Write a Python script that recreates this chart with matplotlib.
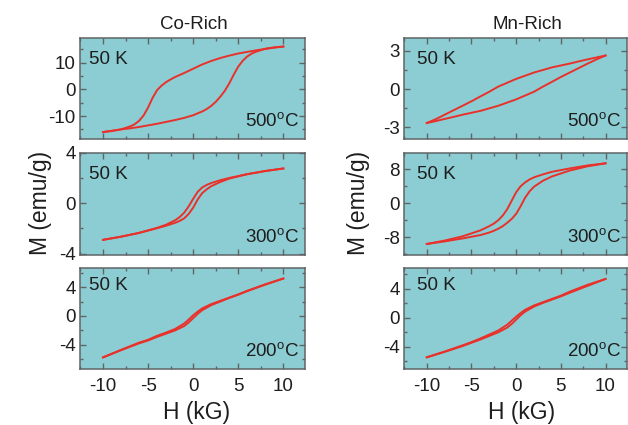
import numpy as np
import matplotlib.pyplot as plt
from matplotlib.ticker import MultipleLocator

plt.rcParams['font.family'] = ['Liberation Sans', 'DejaVu Sans']
plt.rcParams['axes.unicode_minus'] = False

# ===================== data =====================
# Co-Rich, 500 C anneal
co500_h_dn = [10, 9, 8, 7, 6, 5, 4, 3, 2, 1, 0, -1, -2, -2.5, -3, -3.5, -4, -4.5, -5, -5.5, -6, -6.5, -7, -8, -9, -10]
co500_m_dn = [16.0, 15.6, 15.1, 14.6, 14.0, 13.4, 12.6, 11.7, 10.6, 9.3, 7.7, 6.1, 4.6, 3.7, 2.7, 1.4, -0.3, -3.2, -6.8, -9.8, -11.8, -13.1, -13.9, -15.0, -15.6, -16.0]
co500_h_up = [-10, -9, -8, -7, -6, -5, -4, -3, -2, -1, 0, 1, 1.5, 2, 2.5, 3, 3.5, 4, 4.5, 5, 5.5, 6, 6.5, 7, 8, 9, 10]
co500_m_up = [-16.0, -15.5, -15.0, -14.6, -14.1, -13.5, -12.9, -12.2, -11.5, -10.7, -9.7, -8.3, -7.4, -6.2, -4.7, -2.8, -0.6, 2.2, 5.5, 8.5, 10.7, 12.3, 13.4, 14.1, 15.2, 15.7, 16.0]

# Co-Rich, 300 C
co300_h_dn = [10, 8, 6, 4, 3, 2, 1.5, 1, 0.5, 0, -0.5, -1, -1.5, -2, -3, -4, -6, -8, -10]
co300_m_dn = [2.75, 2.55, 2.3, 2.0, 1.82, 1.6, 1.45, 1.25, 0.9, 0.35, -0.25, -0.75, -1.1, -1.35, -1.7, -1.95, -2.35, -2.65, -2.9]
co300_h_up = [-10, -8, -6, -4, -3, -2, -1.5, -1, -0.5, 0, 0.5, 1, 1.5, 2, 3, 4, 6, 8, 10]
co300_m_up = [-2.9, -2.65, -2.35, -1.98, -1.78, -1.55, -1.4, -1.2, -0.85, -0.35, 0.3, 0.8, 1.1, 1.35, 1.68, 1.95, 2.3, 2.55, 2.75]

# Co-Rich, 200 C
co200_h_dn = [10, 8, 6, 5, 4, 3, 2, 1, 0.5, 0, -0.5, -1, -2, -3, -4, -5, -6, -8, -10]
co200_m_dn = [5.2, 4.4, 3.5, 3.0, 2.55, 2.1, 1.65, 1.05, 0.6, 0.1, -0.5, -1.05, -1.8, -2.3, -2.75, -3.3, -3.7, -4.7, -5.75]
co200_h_up = [-10, -8, -6, -5, -4, -3, -2, -1, -0.5, 0, 0.5, 1, 2, 3, 4, 5, 6, 8, 10]
co200_m_up = [-5.75, -4.75, -3.8, -3.4, -2.9, -2.45, -2.0, -1.4, -0.9, -0.3, 0.3, 0.8, 1.5, 2.0, 2.5, 2.95, 3.45, 4.35, 5.2]

# Mn-Rich, 500 C
mn500_h_dn = [10, 9, 8, 7, 6, 5, 4, 3, 2, 1, 0, -1, -2, -3, -4, -5, -6, -7, -8, -9, -10]
mn500_m_dn = [2.63, 2.48, 2.33, 2.17, 2.0, 1.85, 1.7, 1.5, 1.3, 1.05, 0.8, 0.5, 0.2, -0.2, -0.57, -0.95, -1.3, -1.65, -2.0, -2.35, -2.65]
mn500_h_up = [-10, -9, -8, -7, -6, -5, -4, -3, -2, -1, 0, 1, 2, 3, 4, 5, 6, 7, 8, 9, 10]
mn500_m_up = [-2.65, -2.5, -2.33, -2.17, -2.0, -1.85, -1.7, -1.5, -1.3, -1.05, -0.8, -0.5, -0.2, 0.2, 0.57, 0.95, 1.3, 1.65, 2.0, 2.33, 2.63]

# Mn-Rich, 300 C
mn300_h_dn = [10, 8, 6, 4, 3, 2, 1.5, 1, 0.5, 0, -0.5, -1, -1.5, -2, -2.5, -3, -4, -6, -8, -10]
mn300_m_dn = [9.4, 8.9, 8.2, 7.4, 6.8, 6.1, 5.6, 4.9, 4.0, 2.6, 0.6, -1.4, -2.9, -4.0, -4.8, -5.4, -6.4, -7.8, -8.8, -9.6]
mn300_h_up = [-10, -8, -6, -4, -3, -2.5, -2, -1.5, -1, -0.5, 0, 0.5, 1, 1.5, 2, 3, 4, 6, 8, 10]
mn300_m_up = [-9.6, -9.0, -8.3, -7.5, -6.9, -6.5, -6.0, -5.4, -4.6, -3.7, -2.5, -0.7, 1.3, 2.8, 3.9, 5.3, 6.3, 7.7, 8.7, 9.4]

# Mn-Rich, 200 C
mn200_h_dn = [10, 8, 6, 5, 4, 3, 2, 1, 0.5, 0, -0.5, -1, -2, -3, -4, -5, -6, -8, -10]
mn200_m_dn = [5.35, 4.55, 3.6, 3.05, 2.6, 2.15, 1.7, 1.1, 0.65, 0.15, -0.4, -0.95, -1.75, -2.3, -2.85, -3.35, -3.8, -4.65, -5.45]
mn200_h_up = [-10, -8, -6, -5, -4, -3, -2, -1, -0.5, 0, 0.5, 1, 2, 3, 4, 5, 6, 8, 10]
mn200_m_up = [-5.45, -4.7, -3.9, -3.45, -3.0, -2.5, -2.0, -1.35, -0.85, -0.25, 0.35, 0.85, 1.55, 2.05, 2.5, 2.95, 3.45, 4.4, 5.35]

temp_labels = ["500", "300", "200"]
col_titles = ["Co-Rich", "Mn-Rich"]
x_ticks = [-10, -5, 0, 5, 10]

# ===================== layout / style =====================
bg = '#8ccdd3'
red = '#e8312b'
spine_c = '#5f6466'
txt_c = '#1e1e1e'

W, H = 628, 425
col_left = [80, 404]
col_w = [225, 223]
row_top = [38, 152.7, 267.7]
row_h = [101, 102.3, 101.6]

panels = [
    [(co500_h_dn, co500_m_dn, co500_h_up, co500_m_up, (-18.6, 19.2), [-10, 0, 10], 5),
     (co300_h_dn, co300_m_dn, co300_h_up, co300_m_up, (-4.1, 3.95), [-4, 0, 4], 2),
     (co200_h_dn, co200_m_dn, co200_h_up, co200_m_up, (-7.4, 6.7), [-4, 0, 4], 2)],
    [(mn500_h_dn, mn500_m_dn, mn500_h_up, mn500_m_up, (-3.9, 4.0), [-3, 0, 3], 1.5),
     (mn300_h_dn, mn300_m_dn, mn300_h_up, mn300_m_up, (-12.2, 11.9), [-8, 0, 8], 4),
     (mn200_h_dn, mn200_m_dn, mn200_h_up, mn200_m_up, (-7.1, 6.9), [-4, 0, 4], 2)],
]

fig = plt.figure(figsize=(6.28, 4.25), dpi=100)

for c in range(2):
    for r in range(3):
        h_dn, m_dn, h_up, m_up, ylim, yt, yminor = panels[c][r]
        ax = fig.add_axes([col_left[c]/W, 1-(row_top[r]+row_h[r])/H, col_w[c]/W, row_h[r]/H])
        ax.set_facecolor(bg)
        ax.plot(h_dn, m_dn, color=red, lw=1.4)
        ax.plot(h_up, m_up, color=red, lw=1.4)
        ax.set_xlim(-12.55, 12.4)
        ax.set_ylim(*ylim)
        ax.set_xticks(x_ticks)
        ax.xaxis.set_minor_locator(MultipleLocator(2.5))
        ax.set_yticks(yt)
        ax.yaxis.set_minor_locator(MultipleLocator(yminor))
        ax.tick_params(which='both', direction='in', top=True, right=True, color=spine_c,
                       labelsize=13.5, labelcolor=txt_c, width=1.0)
        ax.tick_params(which='major', length=4)
        ax.tick_params(which='minor', length=2.2)
        ax.tick_params(axis='y', pad=3)
        ax.tick_params(axis='x', pad=6)
        if r < 2:
            ax.set_xticklabels([])
        for s in ax.spines.values():
            s.set_color(spine_c)
            s.set_linewidth(1.1)
        ax.text(0.04 if c == 0 else 0.06, 0.87 if r < 2 else 0.91, "50 K", transform=ax.transAxes,
                fontsize=13.5, color=txt_c, va='top', ha='left')
        ax.text(0.975, 0.08, temp_labels[r] + r"$^\mathregular{o}$C", transform=ax.transAxes,
                fontsize=13.5, color=txt_c, va='bottom', ha='right')

fig.text(193.5/W, 1-29/H, col_titles[0], ha='center', va='baseline', fontsize=13.5, color=txt_c)
fig.text(527.5/W, 1-29/H, col_titles[1], ha='center', va='baseline', fontsize=13.5, color=txt_c)
fig.text(40/W, 1-203/H, "M (emu/g)", rotation=90, ha='center', va='center', fontsize=16.5, color=txt_c)
fig.text(358/W, 1-203/H, "M (emu/g)", rotation=90, ha='center', va='center', fontsize=16.5, color=txt_c)
fig.text(197/W, 1-419/H, "H (kG)", ha='center', va='baseline', fontsize=16.5, color=txt_c)
fig.text(522/W, 1-419/H, "H (kG)", ha='center', va='baseline', fontsize=16.5, color=txt_c)

plt.savefig("out.png", dpi=100)
